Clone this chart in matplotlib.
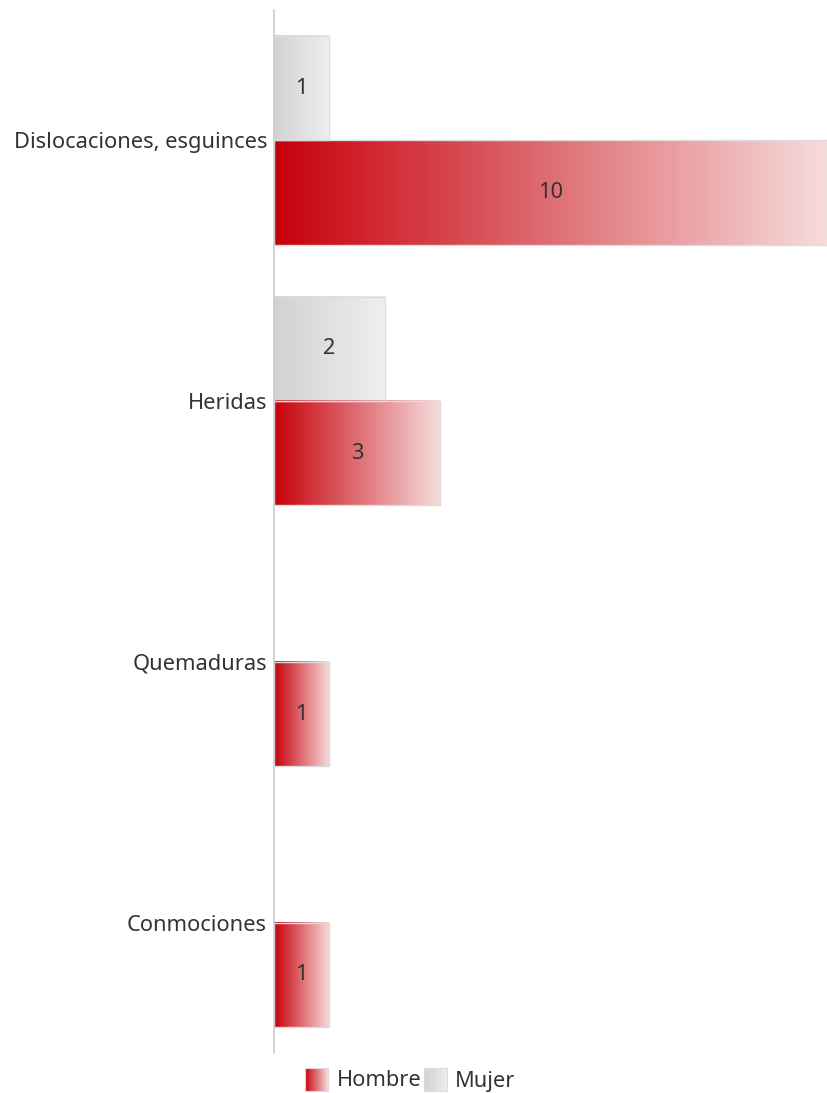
import numpy as np
import matplotlib.pyplot as plt
from matplotlib.colors import LinearSegmentedColormap

plt.rcParams['font.family'] = ['Noto Sans', 'DejaVu Sans']

categories = ["Dislocaciones, esguinces", "Heridas", "Quemaduras", "Conmociones"]
hombre = [10, 3, 1, 1]
mujer = [1, 2, 0, 0]
series_names = ["Hombre", "Mujer"]

red_cmap = LinearSegmentedColormap.from_list("red", ["#c7000b", "#f6dcdc"])
gray_cmap = LinearSegmentedColormap.from_list("gray", ["#d2d2d2", "#efefef"])
text_color = "#333333"
fs = 15.7

fig = plt.figure(figsize=(8.27, 10.93), dpi=100)
ax = fig.add_axes([274 / 827, 1 - 1053 / 1093, 1 - 274 / 827, 1043 / 1093])

y = np.arange(len(categories))
h = 0.4
bars_m = ax.barh(y - h / 2, mujer, height=h, color="none", edgecolor="#dcdcdc", linewidth=1, zorder=3)
bars_h = ax.barh(y + h / 2, hombre, height=h, color="none", edgecolor="#dcdcdc", linewidth=1, zorder=3)

grad = np.tile(np.linspace(0, 1, 256), (8, 1))


def fill_gradient(bars, cmap, values):
    for bar, v in zip(bars, values):
        if v <= 0:
            bar.set_visible(False)
            continue
        x0, y0 = bar.get_x(), bar.get_y()
        w, hh = bar.get_width(), bar.get_height()
        ax.imshow(grad, cmap=cmap, aspect="auto", extent=(x0, x0 + w, y0 + hh, y0),
                  interpolation="nearest", zorder=2)
        ax.text(x0 + w / 2, y0 + hh / 2, str(v), ha="center", va="center",
                fontsize=fs, color=text_color, zorder=4)


fill_gradient(bars_m, gray_cmap, mujer)
fill_gradient(bars_h, red_cmap, hombre)

ax.set_xlim(0, 10)
ax.set_ylim(len(categories) - 0.5, -0.5)
ax.set_yticks(y)
ax.set_yticklabels(categories, fontsize=fs, color=text_color)
ax.tick_params(axis="y", length=0, pad=5)
ax.set_xticks([])
for s in ["top", "right", "bottom"]:
    ax.spines[s].set_visible(False)
ax.spines["left"].set_color("#cccccc")
ax.spines["left"].set_linewidth(1.2)
ax.spines["left"].set_zorder(5)

# legend
sw = 23 / 827
shh = 23 / 1093
leg_y = 1 - 1091 / 1093
for name, cmap, x_sw, x_txt in [(series_names[0], red_cmap, 305, 337), (series_names[1], gray_cmap, 424, 455)]:
    lax = fig.add_axes([x_sw / 827, leg_y, sw, shh])
    lax.imshow(grad, cmap=cmap, aspect="auto", interpolation="nearest")
    lax.set_xticks([])
    lax.set_yticks([])
    for sp in lax.spines.values():
        sp.set_color("#dcdcdc")
    fig.text(x_txt / 827, 1 - 1081 / 1093, name, ha="left", va="center", fontsize=fs, color=text_color)

fig.savefig("out.png", dpi=100)
